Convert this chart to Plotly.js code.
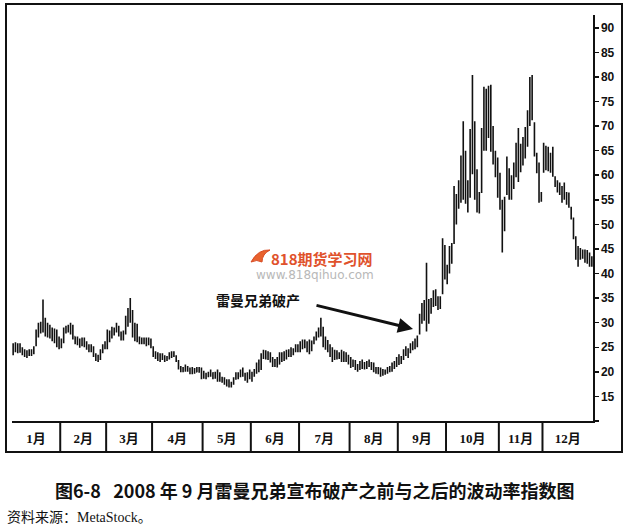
<!DOCTYPE html>
<html>
<head>
<meta charset="utf-8">
<script src="https://cdn.plot.ly/plotly-3.0.1.min.js"></script>
<style>html,body{margin:0;padding:0;background:#fff;}#chart{width:628px;height:530px;}</style>
</head>
<body>
<div id="chart"></div>
<script>
// Month tick labels
const months = ['1月','2月','3月','4月','5月','6月','7月','8月','9月','10月','11月','12月'];
// Rows: [day of month, open, high, low, close]
const jan = [[2,23.6,25.8,23.4,25.2],[3,25.0,26.0,24.0,24.4],[4,24.6,25.8,23.8,25.2],[7,25.0,25.8,23.9,24.2],[8,24.2,25.0,23.4,24.6],[9,24.4,24.6,23.0,23.4],[10,23.4,24.4,22.8,23.8],[11,23.8,24.6,23.2,24.2],[14,24.2,24.6,23.2,23.6],[15,23.8,25.2,23.6,24.8],[16,25.4,28.6,25.2,27.6],[17,27.4,30.0,27.0,29.2],[18,29.0,30.2,27.8,28.6],[22,30.4,34.7,28.0,30.0],[23,30.2,31.0,27.2,28.2],[24,28.0,30.0,27.0,27.6],[25,27.8,29.6,26.8,28.8],[28,28.6,29.0,26.2,26.6],[29,26.6,28.8,25.8,28.2],[30,27.6,28.6,25.0,25.6],[31,25.6,27.2,24.6,25.6]];
const feb = [[1,26.2,26.8,24.8,25.2],[4,26.0,29.0,25.8,28.4],[5,28.4,29.4,27.8,28.8],[6,28.6,29.6,28.0,28.4],[7,28.6,30.0,27.6,29.4],[8,29.2,29.6,26.6,27.0],[11,27.2,27.2,25.6,26.2],[12,26.0,27.2,25.4,25.8],[13,25.6,26.8,24.9,26.2],[14,26.2,27.0,25.2,26.4],[15,26.4,27.0,25.0,25.4],[19,25.6,26.2,24.5,25.0],[20,25.0,25.6,24.0,24.4],[21,24.4,25.6,24.0,25.2],[22,25.0,25.2,23.0,23.6],[25,23.6,23.8,22.2,22.6],[26,22.6,23.5,22.0,23.0],[27,22.8,24.6,22.4,24.2],[28,24.2,25.6,23.8,25.2],[29,25.2,26.2,24.6,26.0]];
const mar = [[3,26.0,28.6,24.6,27.6],[4,27.4,28.4,26.0,26.8],[5,27.0,29.2,26.8,28.6],[6,28.4,29.0,27.4,28.8],[7,28.6,30.0,28.0,29.4],[10,29.0,29.4,27.2,27.8],[11,27.6,28.2,26.4,26.8],[12,26.8,28.4,26.4,27.8],[13,28.0,31.4,27.6,30.6],[14,30.4,33.0,29.2,31.8],[17,32.4,35.0,30.0,31.2],[18,31.0,32.6,27.0,27.8],[19,27.8,30.0,26.2,29.4],[20,29.2,29.8,26.0,26.6],[24,26.6,27.2,25.6,26.2],[25,26.2,27.0,25.6,26.4],[26,26.4,27.0,25.6,25.8],[27,25.8,27.0,25.2,26.6],[28,26.6,27.0,25.4,25.8],[31,25.8,26.8,24.8,25.4]];
const apr = [[1,25.0,25.2,23.0,23.4],[2,23.4,24.2,22.6,23.8],[3,23.6,24.0,22.2,22.6],[4,22.6,23.8,22.0,23.4],[7,23.2,23.8,22.4,22.6],[8,22.6,23.4,22.0,23.0],[9,23.0,23.2,22.2,22.6],[10,22.8,24.0,22.5,23.6],[11,23.4,24.2,22.8,24.0],[14,23.8,24.2,23.0,23.4],[15,23.0,23.4,22.0,22.4],[16,22.2,22.4,20.5,20.8],[17,20.8,21.2,19.9,20.4],[18,20.4,21.0,19.9,20.2],[21,20.2,21.5,20.0,21.0],[22,21.0,21.2,20.0,20.6],[23,20.6,20.9,19.5,19.8],[24,19.8,21.0,19.5,20.4],[25,20.4,20.8,19.6,20.0],[28,20.0,21.0,19.9,20.6],[29,20.6,21.0,19.8,20.2],[30,20.2,20.9,18.5,20.0]];
const may = [[1,20.0,20.2,18.6,18.9],[2,18.9,19.8,18.5,19.4],[5,19.4,20.0,18.9,19.6],[6,19.6,20.5,19.0,19.2],[7,19.2,19.9,18.5,19.8],[8,19.6,20.0,18.6,18.8],[9,18.8,20.5,18.0,19.8],[12,19.6,19.9,18.0,18.4],[13,18.4,19.0,17.8,18.2],[14,18.2,18.9,17.4,17.8],[15,17.8,18.5,17.0,17.4],[16,17.4,18.5,16.8,17.2],[19,17.2,18.0,16.8,17.8],[20,17.8,18.9,17.4,18.6],[21,18.6,19.9,18.4,19.6],[22,19.6,19.9,18.5,19.0],[23,19.2,20.5,18.9,20.2],[27,20.2,20.9,19.0,19.4],[28,19.4,19.8,18.2,18.6],[29,18.6,19.9,17.8,19.2],[30,19.2,20.5,18.5,19.0]];
const jun = [[2,18.8,20.0,18.0,19.4],[3,19.4,20.6,19.0,20.2],[4,20.2,21.9,19.6,21.2],[5,21.2,22.5,19.9,20.4],[6,20.6,23.8,20.4,23.6],[9,23.6,24.5,22.6,23.2],[10,23.2,24.4,22.5,23.8],[11,23.8,24.2,22.4,22.8],[12,22.8,24.0,21.9,22.4],[13,22.4,23.0,21.0,21.4],[16,21.4,22.6,21.0,22.2],[17,22.2,23.0,20.9,21.4],[18,21.6,24.0,21.5,23.6],[19,23.6,24.0,22.0,22.4],[20,22.6,24.2,22.2,23.8],[23,23.8,24.5,22.5,23.2],[24,23.2,24.6,23.0,24.2],[25,24.2,25.0,23.0,23.4],[26,23.6,24.8,23.4,24.6],[27,24.6,25.6,24.0,24.8],[30,24.8,25.6,24.0,24.4]];
const jul = [[1,24.4,26.2,24.0,25.6],[2,25.4,26.6,24.6,26.2],[3,26.0,26.6,24.8,25.2],[7,25.2,26.2,24.0,25.4],[8,25.4,26.6,23.6,24.2],[9,24.4,26.4,24.2,26.0],[10,26.0,27.2,25.6,26.4],[11,26.6,28.2,26.4,27.8],[14,27.8,29.0,27.0,28.6],[15,28.8,31.0,27.2,28.4],[16,28.2,29.2,25.0,25.6],[17,25.6,27.2,24.5,25.0],[18,25.0,26.5,24.0,24.8],[21,24.8,25.6,23.0,23.4],[22,23.6,25.0,22.0,22.6],[23,22.6,24.5,22.4,24.0],[24,23.8,24.4,22.5,23.2],[25,23.2,24.0,22.6,23.6],[28,23.4,24.5,22.0,24.2],[29,24.0,24.2,22.0,22.4],[30,22.4,24.0,22.0,22.8],[31,22.8,23.5,21.5,22.2]];
const aug = [[1,22.6,23.0,20.8,21.4],[4,21.6,22.5,21.0,22.2],[5,22.0,22.4,20.4,20.8],[6,20.8,21.6,20.0,20.6],[7,20.6,22.2,20.4,21.8],[8,21.6,22.5,20.6,21.0],[11,21.0,22.0,20.5,21.6],[12,21.6,22.2,20.6,21.8],[13,21.8,22.5,21.0,21.4],[14,21.4,22.0,20.4,20.8],[15,20.8,21.9,19.9,20.2],[18,20.2,21.0,19.6,20.6],[19,20.6,21.0,19.5,19.8],[20,19.8,20.9,19.0,20.4],[21,20.4,20.6,19.2,19.6],[22,19.6,20.5,19.4,19.8],[25,19.8,21.0,19.6,20.8],[26,20.8,21.2,19.9,20.4],[27,20.4,21.9,20.0,21.4],[28,21.4,22.2,20.6,21.6],[29,21.4,23.0,21.0,22.4]];
const sep = [[2,22.0,23.6,21.4,22.2],[3,22.2,23.2,21.6,22.8],[4,22.8,24.6,22.4,24.2],[5,24.2,25.2,23.2,23.8],[8,23.4,24.8,22.8,24.0],[9,24.0,25.8,23.8,25.6],[10,25.4,26.2,24.4,25.0],[11,25.2,26.8,24.6,26.4],[12,26.2,27.4,25.0,26.8],[15,27.8,31.8,27.6,31.4],[16,31.4,34.0,29.8,30.6],[17,30.8,34.6,30.4,34.2],[18,34.0,42.2,28.2,32.8],[19,31.4,34.8,29.8,32.2],[22,32.6,35.0,31.8,34.2],[23,34.4,36.6,33.2,35.6],[24,35.4,36.8,33.4,34.8],[25,34.4,35.4,32.6,33.2],[26,33.6,35.4,32.8,34.6],[29,36.0,47.2,35.8,46.6],[30,45.4,45.8,38.8,39.6]];
const oct = [[1,39.6,41.8,37.8,39.8],[2,40.2,45.6,40.0,45.2],[3,44.8,46.2,42.0,45.0],[6,47.0,57.8,46.0,52.0],[7,51.0,56.2,50.0,53.6],[8,56.8,59.0,53.2,57.4],[9,55.6,64.0,54.4,63.8],[10,66.0,71.0,55.0,69.8],[13,62.0,65.0,54.2,55.0],[14,53.2,59.0,52.4,55.2],[15,56.0,69.4,55.4,69.2],[16,68.0,80.4,60.2,67.6],[17,70.0,71.0,55.0,70.2],[20,60.0,61.2,52.4,53.0],[21,54.4,56.6,52.2,53.2],[22,57.0,69.6,56.4,69.4],[23,68.0,78.0,65.0,67.8],[24,74.0,77.6,65.0,76.0],[27,70.0,78.2,67.6,77.6],[28,77.0,78.4,64.8,67.0],[29,66.0,70.0,62.2,69.6],[30,64.0,65.0,59.6,62.8],[31,62.0,63.6,55.4,59.8]];
const nov = [[3,59.0,60.5,53.0,54.0],[4,54.0,55.0,44.3,47.8],[5,49.0,55.6,48.6,54.6],[6,57.0,63.8,56.0,63.2],[7,60.0,61.4,55.0,56.0],[10,56.0,60.0,55.0,57.2],[11,59.0,62.6,57.2,60.0],[12,60.4,66.6,59.6,66.4],[13,66.2,69.6,58.6,60.0],[14,61.0,66.4,60.6,65.8],[17,65.6,67.8,62.0,66.8],[18,67.0,69.8,63.4,65.4],[19,66.4,73.2,65.8,72.8],[20,73.0,80.0,70.0,79.0],[21,78.0,80.4,71.2,72.6],[24,70.0,70.8,63.8,64.6],[25,63.8,64.6,60.4,61.0],[26,61.0,62.6,54.4,55.0],[28,55.2,56.6,54.6,55.6]];
const dec = [[1,62.0,66.6,60.5,66.0],[2,65.4,66.0,61.0,62.0],[3,62.4,65.8,60.8,61.4],[4,61.4,64.6,60.5,63.4],[5,63.6,65.8,59.7,60.0],[8,59.4,59.8,57.6,58.2],[9,58.2,59.0,56.5,57.4],[10,57.4,58.5,56.0,56.6],[11,56.2,57.8,54.4,57.4],[12,57.0,58.5,55.0,55.6],[15,55.4,56.6,54.0,55.0],[16,55.0,56.5,53.4,53.8],[17,53.4,53.6,51.0,51.6],[18,51.2,51.4,47.0,47.6],[19,47.2,47.6,42.8,45.6],[22,45.4,45.6,41.4,43.6],[23,43.6,45.2,42.8,44.6],[24,44.4,44.9,43.0,43.4],[26,43.4,44.9,42.2,44.2],[29,44.0,44.8,42.0,42.4],[30,42.6,44.3,41.4,41.8],[31,41.8,43.5,41.4,42.8]];

const yTicks = [10,15,20,25,30,35,40,45,50,55,60,65,70,75,80,85,90];
const yTickText = ['','15','20','25','30','35','40','45','50','55','60','65','70','75','80','85','90'];

const monthRows = [jan,feb,mar,apr,may,jun,jul,aug,sep,oct,nov,dec];
const pad = n => String(n).padStart(2,'0');
const xs=[], op=[], hi=[], lo=[], cl=[];
const starts=[], mids=[];
monthRows.forEach((rows,m)=>{
  starts.push(xs.length);
  mids.push(xs.length + (rows.length-1)/2);
  rows.forEach(r=>{
    xs.push('2008-'+pad(m+1)+'-'+pad(r[0]));
    op.push(r[1]); hi.push(r[2]); lo.push(r[3]); cl.push(r[4]);
  });
});
const nDays = xs.length;

// plot area geometry helpers (paper coords from pixels)
const L=12, R=35, T=15, B=109, W=628, H=530;
const pw = W-L-R, ph = H-T-B;
const px = p => (p-L)/pw;
const py = p => (H-B-p)/ph;

const shapes = [
  {type:'rect', xref:'paper', yref:'paper', x0:px(6), x1:px(622), y0:py(452), y1:py(4),
   line:{color:'#111', width:2}, fillcolor:'rgba(0,0,0,0)', layer:'above'},
  // small watermark logo (orange wing)
  {type:'path', xref:'paper', yref:'paper',
   path:'M '+px(251)+','+py(262)+' Q '+px(258)+','+py(249)+' '+px(270)+','+py(250)+
        ' Q '+px(262)+','+py(254)+' '+px(262)+','+py(262)+' Q '+px(257)+','+py(259)+' '+px(251)+','+py(262)+' Z',
   fillcolor:'#e8622e', line:{color:'#d84a22', width:1}}
];
starts.slice(1).forEach(s=>{
  shapes.push({type:'line', xref:'x', yref:'paper', x0:s-0.5, x1:s-0.5, y0:0, y1:py(452),
    line:{color:'#111', width:2}});
});

const annotations = [
  {xref:'paper', yref:'paper', x:px(258), y:py(300), text:'雷曼兄弟破产', showarrow:false,
   xanchor:'center', yanchor:'middle', font:{family:'Noto Sans CJK SC', size:14, color:'#111', weight:'bold'}},
  {xref:'paper', yref:'paper', x:px(413), y:py(329), axref:'pixel', ayref:'pixel', ax:-98, ay:-24,
   text:'', showarrow:true, arrowhead:2, arrowsize:1, arrowwidth:3, arrowcolor:'#111'},
  {xref:'paper', yref:'paper', x:px(322), y:py(258), text:'818期货学习网', showarrow:false,
   xanchor:'center', yanchor:'middle', font:{family:'Noto Sans CJK SC', size:15, color:'#e0522c', weight:'bold'}},
  {xref:'paper', yref:'paper', x:px(315), y:py(275), text:'www.818qihuo.com', showarrow:false,
   xanchor:'center', yanchor:'middle', font:{family:'DejaVu Sans', size:12, color:'#b8b8b8'}},
  {xref:'paper', yref:'paper', x:px(315), y:py(490), text:'图6-8   2008 年 9 月雷曼兄弟宣布破产之前与之后的波动率指数图', showarrow:false,
   xanchor:'center', yanchor:'middle', font:{family:'Noto Sans CJK SC', size:18, color:'#111', weight:'bold'}},
  {xref:'paper', yref:'paper', x:px(5), y:py(517), text:'资料来源：MetaStock。', showarrow:false,
   xanchor:'left', yanchor:'middle', font:{family:'Liberation Serif, Noto Sans CJK SC', size:14, color:'#111'}}
];

const trace = {
  type:'ohlc', x:xs, open:op, high:hi, low:lo, close:cl,
  increasing:{line:{color:'#111', width:1.6}},
  decreasing:{line:{color:'#111', width:1.6}},
  tickwidth:0.3, hoverinfo:'skip', showlegend:false
};

const layout = {
  width:W, height:H,
  margin:{l:L, r:R, t:T, b:B, pad:0},
  paper_bgcolor:'#fff', plot_bgcolor:'#fff',
  showlegend:false,
  xaxis:{type:'category', range:[-0.5, nDays-0.5], rangeslider:{visible:false},
    showline:true, linecolor:'#111', linewidth:2, showgrid:false, zeroline:false,
    tickmode:'array', tickvals:mids, ticktext:months, ticks:'', ticklabelstandoff:4,
    tickfont:{family:'Liberation Serif, Noto Sans CJK SC', size:13, color:'#111', weight:'bold'}},
  yaxis:{side:'right', range:[10, 92.6], tickmode:'array', tickvals:yTicks, ticktext:yTickText,
    ticks:'outside', ticklen:4, tickwidth:1.5, tickcolor:'#111',
    showline:true, linecolor:'#111', linewidth:1.5, showgrid:false, zeroline:false,
    tickfont:{family:'Liberation Sans', size:12, color:'#111', weight:'bold'}},
  shapes:shapes, annotations:annotations
};

Plotly.newPlot('chart', [trace], layout, {staticPlot:true, displayModeBar:false});
</script>
</body>
</html>
